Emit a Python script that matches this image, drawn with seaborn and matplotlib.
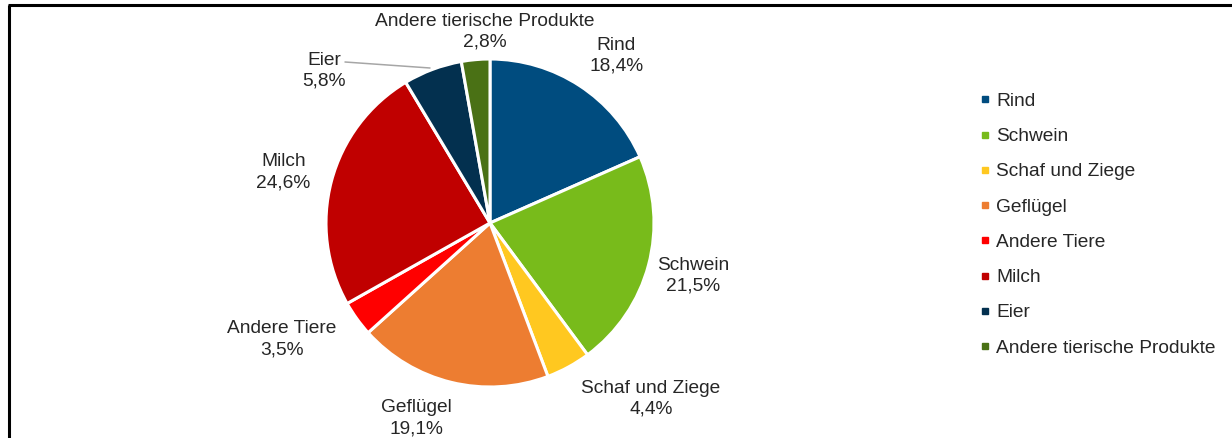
import matplotlib
matplotlib.use("Agg")
import matplotlib.pyplot as plt
from matplotlib.lines import Line2D
import seaborn as sns

categories = ["Rind", "Schwein", "Schaf und Ziege", "Geflügel", "Andere Tiere",
              "Milch", "Eier", "Andere tierische Produkte"]
values = [18.4, 21.5, 4.4, 19.1, 3.5, 24.6, 5.8, 2.8]
colors = ["#004C7F", "#78BB1B", "#FFC820", "#ED7D31", "#FF0000",
          "#C00000", "#03304F", "#4A7115"]

sns.set_theme(style="white")
plt.rcParams['font.family'] = ['Liberation Sans', 'DejaVu Sans']
palette = sns.color_palette(colors)

W, H = 1232, 438
fig = plt.figure(figsize=(W / 100, H / 100), dpi=100)
ax = fig.add_axes([0, 0, 1, 1])

R = 164.0  # pixels per unit radius
cx, cy = 490.0, 223.0

wedges, _ = ax.pie(values, colors=palette, startangle=90, counterclock=False,
                   radius=1, center=(0, 0),
                   wedgeprops=dict(edgecolor="white", linewidth=2.2))
ax.set_aspect('auto')
ax.set_xlim(-cx / R, (W - cx) / R)
ax.set_ylim(-(H - cy) / R, cy / R)
ax.axis('off')

label_pos = [(0.77, 1.02), (1.24, -0.32), (0.98, -1.07), (-0.45, -1.19),
             (-1.27, -0.71), (-1.26, 0.31), (-1.01, 0.93), (-0.03, 1.165)]
txtc = "#262626"
FS = 13.8
for cat, v, (x, y) in zip(categories, values, label_pos):
    pct = f"{v:.1f}".replace('.', ',') + "%"
    ax.text(x, y, f"{cat}\n{pct}", ha='center', va='center', fontsize=FS,
            color=txtc, linespacing=1.3)

# leader line for Eier
ax.plot([(345 - cx) / R, (430 - cx) / R], [(cy - 62) / R, (cy - 68) / R],
        color="#A6A6A6", linewidth=1.1)

handles = [Line2D([0], [0], marker='s', color='none', markerfacecolor=c,
                  markeredgecolor=c, markersize=4.5) for c in palette]
leg = ax.legend(handles, categories, loc='upper left',
                bbox_to_anchor=(971 / W, 1 - 83 / H), bbox_transform=fig.transFigure,
                frameon=False, fontsize=FS, labelspacing=0.93,
                handlelength=0.5, handletextpad=0.3, borderpad=0)
for t in leg.get_texts():
    t.set_color(txtc)

# frame lines (left and top)
fig.add_artist(Line2D([8.5 / W, 8.5 / W], [0, 1 - 5 / H], transform=fig.transFigure,
                      color="black", linewidth=2.2, solid_capstyle='butt'))
fig.add_artist(Line2D([7.5 / W, 1], [1 - 5 / H, 1 - 5 / H], transform=fig.transFigure,
                      color="black", linewidth=2.2, solid_capstyle='butt'))

fig.savefig("out.png", dpi=100, facecolor="white")
